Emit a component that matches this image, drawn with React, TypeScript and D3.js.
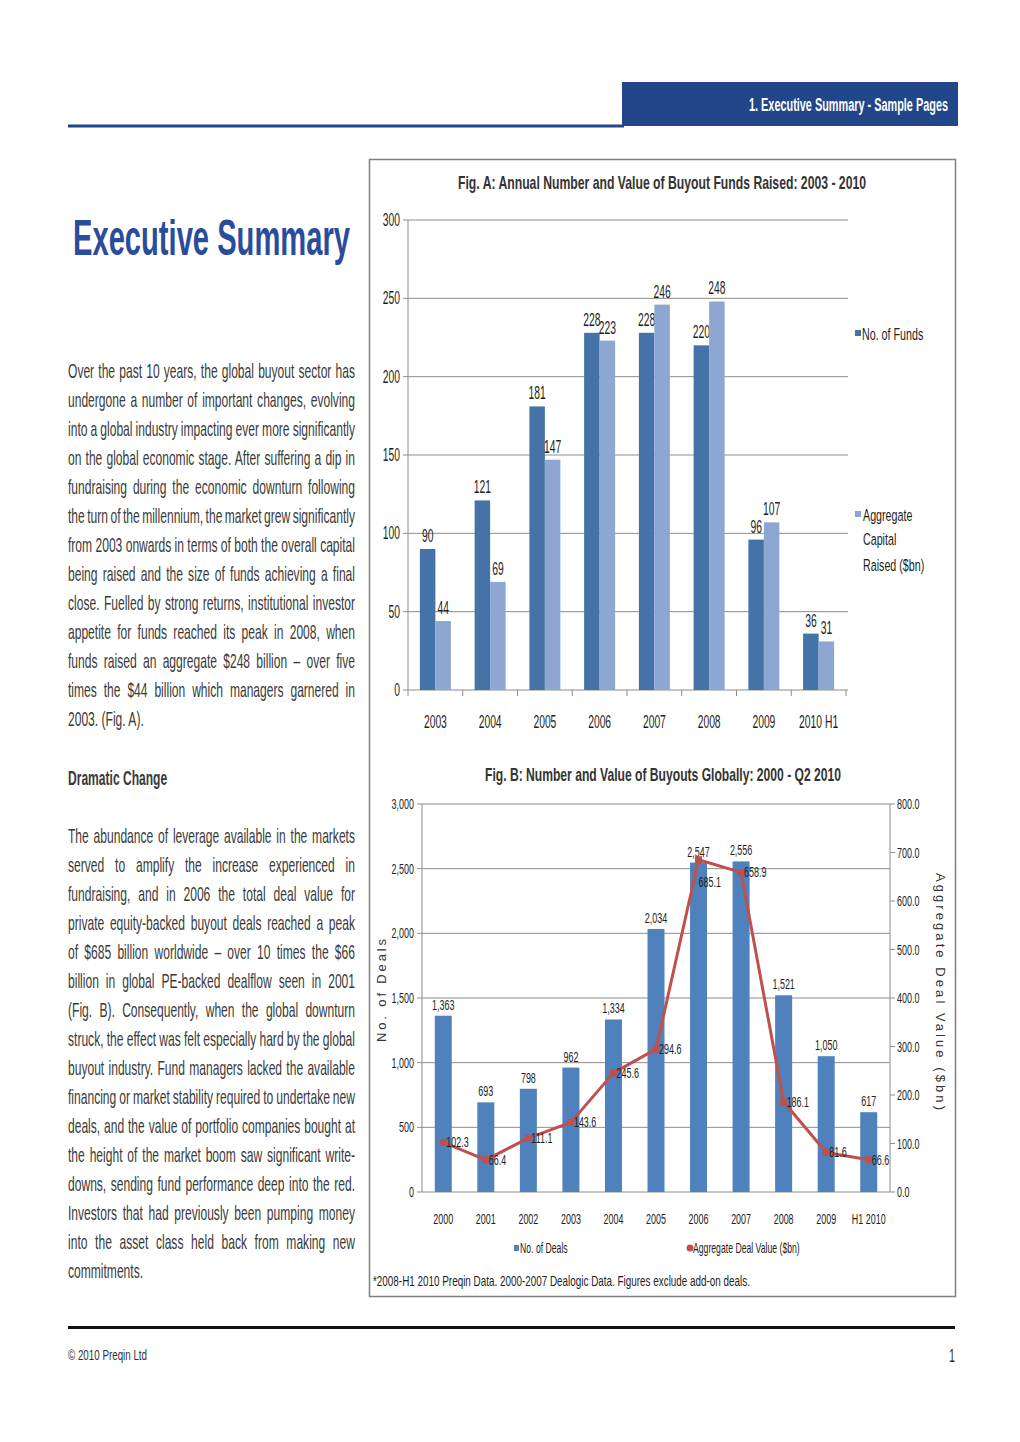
import React, { useLayoutEffect, useRef } from "react";
import * as d3 from "d3";

// ---------- Data ----------
const figAYears = ["2003", "2004", "2005", "2006", "2007", "2008", "2009", "2010 H1"];
const figAFunds = [90, 121, 181, 228, 228, 220, 96, 36];
const figACapital = [44, 69, 147, 223, 246, 248, 107, 31];
const figATicks = [0, 50, 100, 150, 200, 250, 300];
const figASeries = ["No. of Funds", "Aggregate Capital Raised ($bn)"];

const figBYears = ["2000", "2001", "2002", "2003", "2004", "2005", "2006", "2007", "2008", "2009", "H1 2010"];
const figBDeals = [1363, 693, 798, 962, 1334, 2034, 2547, 2556, 1521, 1050, 617];
const figBValue = [102.3, 66.4, 111.1, 143.6, 245.6, 294.6, 685.1, 658.9, 186.1, 81.6, 66.6];
const figBLeftTicks = [0, 500, 1000, 1500, 2000, 2500, 3000];
const figBRightTicks = [0, 100, 200, 300, 400, 500, 600, 700, 800];

const para1 = [
  "Over the past 10 years, the global buyout sector has",
  "undergone a number of important changes, evolving",
  "into a global industry impacting ever more significantly",
  "on the global economic stage. After suffering a dip in",
  "fundraising during the economic downturn following",
  "the turn of the millennium, the market grew significantly",
  "from 2003 onwards in terms of both the overall capital",
  "being raised and the size of funds achieving a final",
  "close. Fuelled by strong returns, institutional investor",
  "appetite for funds reached its peak in 2008, when",
  "funds raised an aggregate $248 billion – over five",
  "times the $44 billion which managers garnered in",
  "2003. (Fig. A).",
];
const para2 = [
  "The abundance of leverage available in the markets",
  "served to amplify the increase experienced in",
  "fundraising, and in 2006 the total deal value for",
  "private equity-backed buyout deals reached a peak",
  "of $685 billion worldwide – over 10 times the $66",
  "billion in global PE-backed dealflow seen in 2001",
  "(Fig. B). Consequently, when the global downturn",
  "struck, the effect was felt especially hard by the global",
  "buyout industry. Fund managers lacked the available",
  "financing or market stability required to undertake new",
  "deals, and the value of portfolio companies bought at",
  "the height of the market boom saw significant write-",
  "downs, sending fund performance deep into the red.",
  "Investors that had previously been pumping money",
  "into the asset class held back from making new",
  "commitments.",
];

const FONT = "'Liberation Sans', Arial, Helvetica, sans-serif";
const NAVY = "#22468A";
const DARK = "#4572A7";
const LIGHT = "#8DA6D2";
const BLUE_B = "#4F81BD";
const RED = "#C0504D";
const GRID = "#8c8c8c";
const TXT = "#3a3a3a";
const LBL = "#1e1e1e";

type TProps = {
  x: number;
  y: number;
  size: number;
  sx?: number;
  anchor?: "start" | "middle" | "end";
  weight?: string;
  fill?: string;
  len?: number;
  className?: string;
  target?: number;
  children: React.ReactNode;
};

function T({ x, y, size, sx = 0.6, anchor = "start", weight, fill = LBL, len, className, target, children }: TProps) {
  if (len) {
    return (
      <text x={x} y={y} fontSize={size} fontFamily={FONT} fontWeight={weight} fill={fill} textAnchor={anchor}
        textLength={len} lengthAdjust="spacingAndGlyphs">
        {children}
      </text>
    );
  }
  return (
    <text transform={`translate(${x},${y}) scale(${sx},1)`} x={0} y={0} fontSize={size} fontFamily={FONT}
      fontWeight={weight} fill={fill} textAnchor={anchor} className={className} data-target={target}>
      {children}
    </text>
  );
}

export default function App() {
  const ref = useRef<SVGSVGElement>(null);

  useLayoutEffect(() => {
    const svg = ref.current;
    if (!svg) return;
    svg.querySelectorAll<SVGTextElement>("text.just").forEach((el) => {
      el.style.wordSpacing = "0px";
      const w = el.getComputedTextLength();
      const target = Number(el.getAttribute("data-target"));
      const spaces = (el.textContent || "").split(" ").length - 1;
      if (spaces > 0) el.style.wordSpacing = `${(target - w) / spaces}px`;
    });
  }, []);

  // ---------- Fig A scales ----------
  const axL = 408, axR = 846, aTop = 220, aBot = 690;
  const xA = d3.scaleBand<string>().domain(figAYears).range([axL, axR]);
  const xA1 = d3.scaleBand<string>().domain(figASeries).range([-15.5, 15.5]);
  const yA = d3.scaleLinear().domain([0, 300]).range([aBot, aTop]);

  // ---------- Fig B scales ----------
  const bL = 422, bR = 890, bTop = 804, bBot = 1192;
  const xB = d3.scaleBand<string>().domain(figBYears).range([bL, bR]);
  const yBL = d3.scaleLinear().domain([0, 3000]).range([bBot, bTop]);
  const yBR = d3.scaleLinear().domain([0, 800]).range([bBot, bTop]);
  const barW = 17;
  const cx = (k: string) => (xB(k) as number) + xB.bandwidth() / 2;
  const linePts: [number, number][] = figBYears.map((k, i) => [cx(k), yBR(figBValue[i])]);
  const lineGen = d3.line();
  const valueLabelOffset: Record<number, [number, number]> = { 6: [-3, 22] };

  const fmtInt = d3.format(",");
  const fmt1 = d3.format(".1f");

  const BODY_SX = 0.575;
  const paraLines = (lines: string[], y0: number) =>
    lines.map((l, i) => {
      const last = i === lines.length - 1;
      return (
        <T key={i} x={68} y={y0 + i * 29} size={21} sx={BODY_SX} fill={TXT}
          className={last ? undefined : "just"} target={287 / BODY_SX}>
          {l}
        </T>
      );
    });

  return (
    <svg ref={ref} width={1020} height={1442} style={{ position: "absolute", left: 0, top: 0, background: "#fff" }}>
      <rect x={0} y={0} width={1020} height={1442} fill="#fff" />
      {/* header */}
      <rect x={622} y={82} width={336} height={44} fill={NAVY} />
      <rect x={68} y={124.5} width={556} height={3} fill={NAVY} />
      <T x={749} y={111} size={18} weight="bold" fill="#fff" len={199}>1. Executive Summary - Sample Pages</T>

      {/* title */}
      <T x={73} y={255} size={50} weight="bold" fill="#2B4C9B" len={277}>Executive Summary</T>

      {/* body */}
      {paraLines(para1, 378)}
      <T x={68} y={785} size={21} sx={0.575} weight="bold" fill={TXT}>Dramatic Change</T>
      {paraLines(para2, 843)}

      {/* chart box */}
      <rect x={369.5} y={159.5} width={586} height={1137} fill="none" stroke="#7f7f7f" strokeWidth={1.5} />

      {/* ---------- Fig A ---------- */}
      <T x={458} y={189} size={19} weight="bold" fill="#333" len={408}>
        Fig. A:  Annual Number and Value of Buyout Funds Raised: 2003 - 2010
      </T>
      {figATicks.map((t) => (
        <g key={t}>
          {t > 0 && <line x1={axL} x2={848} y1={yA(t)} y2={yA(t)} stroke={GRID} strokeWidth={1} />}
          <line x1={axL - 5} x2={axL} y1={yA(t)} y2={yA(t)} stroke={GRID} />
          <T x={400} y={yA(t) + 6} size={17.5} sx={0.59} anchor="end">{t}</T>
        </g>
      ))}
      <line x1={axL} x2={axL} y1={aTop} y2={aBot} stroke={GRID} />
      <line x1={axL} x2={848} y1={aBot} y2={aBot} stroke={GRID} />
      <line x1={axL} x2={axL} y1={aBot} y2={aBot + 6} stroke={GRID} />
      {figAYears.map((yr) => {
        const e = (xA(yr) as number) + xA.bandwidth();
        return <line key={yr} x1={e} x2={e} y1={aBot} y2={aBot + 6} stroke={GRID} />;
      })}
      {figAYears.map((yr, i) => {
        const c = (xA(yr) as number) + xA.bandwidth() / 2;
        const vals = [figAFunds[i], figACapital[i]];
        return (
          <g key={yr}>
            {figASeries.map((s, j) => {
              const x = c + (xA1(s) as number);
              const w = xA1.bandwidth();
              return (
                <g key={s}>
                  <rect x={x} y={yA(vals[j])} width={w} height={aBot - yA(vals[j])} fill={j === 0 ? DARK : LIGHT} />
                  <T x={x + w / 2} y={yA(vals[j]) - 7} size={17.5} sx={0.59} anchor="middle">{vals[j]}</T>
                </g>
              );
            })}
            <T x={c} y={728} size={17.5} sx={0.59} anchor="middle">{yr}</T>
          </g>
        );
      })}
      {/* Fig A legend */}
      <rect x={855} y={330} width={6} height={6} fill={DARK} />
      <T x={862} y={340} size={17} sx={0.63}>No. of Funds</T>
      <rect x={855} y={511} width={6} height={6} fill={LIGHT} />
      <T x={863} y={521} size={17} sx={0.63}>Aggregate</T>
      <T x={863} y={545} size={17} sx={0.63}>Capital</T>
      <T x={863} y={571} size={17} sx={0.63}>Raised ($bn)</T>

      {/* ---------- Fig B ---------- */}
      <T x={485} y={781} size={19} weight="bold" fill="#333" len={356}>
        Fig. B: Number and Value of Buyouts Globally: 2000 - Q2 2010
      </T>
      {figBLeftTicks.map((t) => (
        <g key={t}>
          {t > 0 && <line x1={bL} x2={bR} y1={yBL(t)} y2={yBL(t)} stroke={GRID} />}
          <line x1={bL - 5} x2={bL} y1={yBL(t)} y2={yBL(t)} stroke={GRID} />
          <T x={414} y={yBL(t) + 5} size={14} sx={0.64} anchor="end">{fmtInt(t)}</T>
        </g>
      ))}
      {figBRightTicks.map((t) => (
        <g key={t}>
          <line x1={bR} x2={bR + 5} y1={yBR(t)} y2={yBR(t)} stroke={GRID} />
          <T x={897} y={yBR(t) + 5} size={14} sx={0.64}>{fmt1(t)}</T>
        </g>
      ))}
      <line x1={bL} x2={bL} y1={bTop} y2={bBot} stroke={GRID} />
      <line x1={bR} x2={bR} y1={bTop} y2={bBot} stroke={GRID} />
      <line x1={bL} x2={bR} y1={bBot} y2={bBot} stroke={GRID} />
      {figBYears.map((yr, i) => (
        <g key={yr}>
          <rect x={cx(yr) - barW / 2} y={yBL(figBDeals[i])} width={barW} height={bBot - yBL(figBDeals[i])} fill={BLUE_B} />
          <T x={cx(yr)} y={yBL(figBDeals[i]) - 6} size={14} sx={0.64} anchor="middle">{fmtInt(figBDeals[i])}</T>
          <T x={cx(yr)} y={1224} size={14} sx={0.64} anchor="middle">{yr}</T>
        </g>
      ))}
      <path d={lineGen(linePts) || ""} fill="none" stroke={RED} strokeWidth={3} strokeLinejoin="round" />
      {linePts.map(([x, y], i) => {
        const off = valueLabelOffset[i] || [0, 0];
        return (
          <g key={i}>
            <rect x={x - 3.5} y={y - 3.5} width={7} height={7} fill={RED} />
            <T x={x + 3 + off[0]} y={y + 5 + off[1]} size={14} sx={0.64}>{fmt1(figBValue[i])}</T>
          </g>
        );
      })}
      {/* axis titles */}
      <text transform="translate(386,991) rotate(-90)" x={-51} y={0} fontSize={13} fontFamily={FONT} fill="#333"
        textLength={103} lengthAdjust="spacing">
        No. of Deals
      </text>
      <text transform="translate(936,991) rotate(90)" x={-118} y={0} fontSize={13} fontFamily={FONT} fill="#333"
        textLength={237} lengthAdjust="spacing">
        Aggregate Deal Value ($bn)
      </text>
      {/* legend */}
      <rect x={514} y={1245} width={5} height={6} fill={BLUE_B} />
      <T x={520} y={1253} size={14} sx={0.62}>No. of Deals</T>
      <circle cx={690} cy={1248} r={3.5} fill={RED} />
      <T x={693} y={1253} size={14} sx={0.62}>Aggregate Deal Value ($bn)</T>
      <T x={373} y={1286} size={15} len={377}>
        *2008-H1 2010 Preqin Data.  2000-2007 Dealogic Data.  Figures exclude add-on deals.
      </T>

      {/* footer */}
      <rect x={68} y={1326} width={887} height={3} fill="#111" />
      <T x={68} y={1360} size={15} fill="#333" len={79}>© 2010 Preqin Ltd</T>
      <T x={955} y={1362} size={18} sx={0.6} anchor="end" fill="#333">1</T>
    </svg>
  );
}
